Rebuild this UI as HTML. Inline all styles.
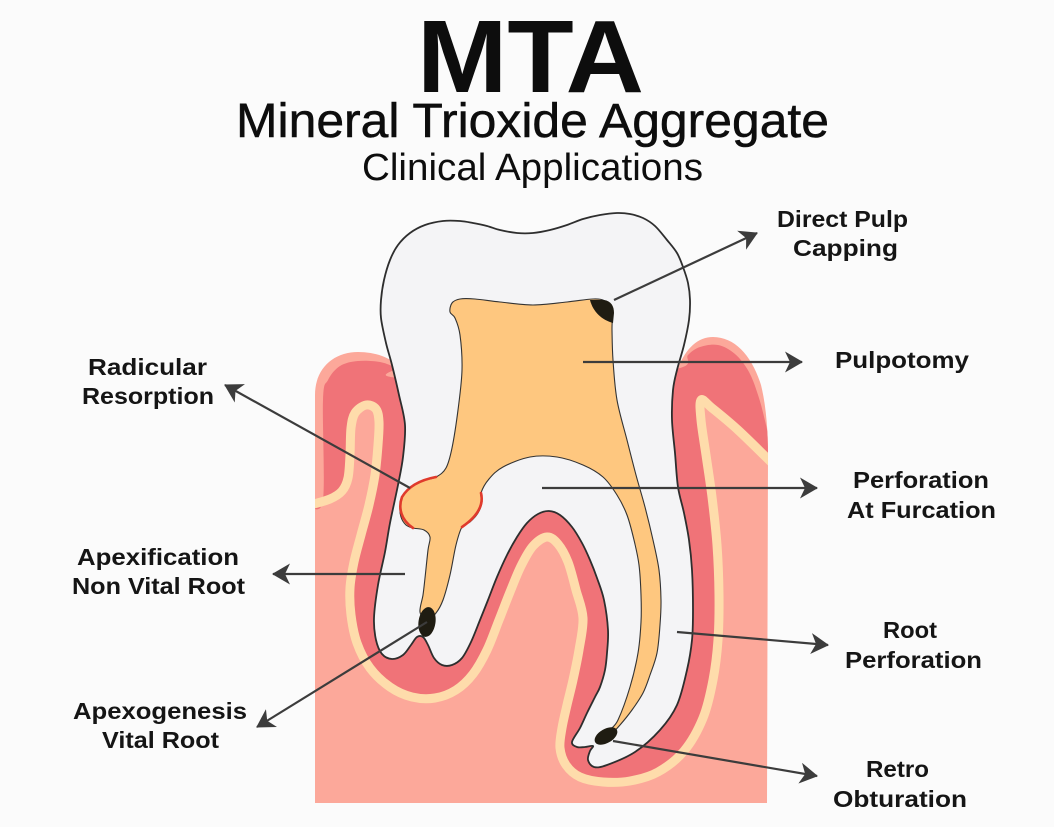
<!DOCTYPE html>
<html>
<head>
<meta charset="utf-8">
<style>
  html, body { margin: 0; padding: 0; background: #fbfbfb; }
  body { width: 1054px; height: 827px; overflow: hidden; }
  svg { display: block; }
  .lbl { font-family: "Liberation Sans", Arial, sans-serif; font-weight: bold; font-size: 23px; fill: #151515; }
  .ttl { font-family: "Liberation Sans", Arial, sans-serif; fill: #0d0d0d; }
</style>
</head>
<body>
<svg width="1054" height="827" viewBox="0 0 1054 827" xmlns="http://www.w3.org/2000/svg">
  <defs>
    <clipPath id="gumclip">
      <path d="M315,803 L315,395 C315,368 334,352 358,352 C376,352 392,358 400,368 L678,368 C686,348 698,337 713,337 C735,337 752,356 761,385 C766,405 768,430 768,455 L767,803 Z"/>
    </clipPath>
    <marker id="ah" markerUnits="userSpaceOnUse" markerWidth="19" markerHeight="21" refX="17" refY="10.5" orient="auto" viewBox="0 0 19 21">
      <path d="M0,0 L18,10.5 L0,21 L5,10.5 Z" fill="#3c3c3c"/>
    </marker>
  </defs>

  <rect x="0" y="0" width="1054" height="827" fill="#fbfbfb"/>

  <!-- gum base -->
  <path fill="#fca89a" d="M315,803 L315,395 C315,368 334,352 358,352 C376,352 392,358 400,368 L678,368 C686,348 698,337 713,337 C735,337 752,356 761,385 C766,405 768,430 768,455 L767,803 Z"/>

  <g clip-path="url(#gumclip)">
    <!-- dark pink band -->
    <path class="cr" fill="#f07378" d="M310,505 L330,499 342,491 348,478 350,455 351,428 355,413 366,405 376,409 379,422 378,445 375,475 369,505 361,535 354,562 350,588 351,615 357,643 370,668 390,687 412,697 435,698 456,690 473,674 487,650 499,620 510,592 521,566 533,546 547,537 558,544 568,562 576,590 583,618 579,650 573,680 567,705 562,728 560,748 566,765 580,777 603,782 630,781 658,772 684,751 703,718 713,680 718,640 719,595 717,545 712,497 706,455 701,420 701,400 712,408 738,430 772,463 772,452 766,425 759,398 749,372 735,354 718,345 700,347 688,355 680,368 600,378 402,378 395,368 380,362 358,361 340,366 328,380 323,400 323,500 Z"/>
    <!-- cream line -->
    <path class="cr" fill="none" stroke="#fedcab" stroke-width="9" stroke-linejoin="round" stroke-linecap="round" d="M310,505 L330,499 342,491 348,478 350,455 351,428 355,413 366,405 376,409 379,422 378,445 375,475 369,505 361,535 354,562 350,588 351,615 357,643 370,668 390,687 412,697 435,698 456,690 473,674 487,650 499,620 510,592 521,566 533,546 547,537 558,544 568,562 576,590 583,618 579,650 573,680 567,705 562,728 560,748 566,765 580,777 603,782 630,781 658,772 684,751 703,718 713,680 718,640 719,595 717,545 712,497 706,455 701,420 701,400 712,408 738,430 772,463"/>
  </g>

  <!-- tooth -->
  <path class="cr" fill="#f4f4f6" stroke="#2e2e2e" stroke-width="1.8" stroke-linejoin="round" d="M381,318 L381,300 384,280 390,260 398,245 410,233 425,225 443,221 460,221 473,223 487,226 500,230 517,233 533,233 550,230 567,225 583,219 600,215 617,213 630,214 643,218 655,226 667,240 677,253 683,267 688,283 690,300 689,320 684,345 677,370 673,390 672,420 675,453 678,487 684,513 689,540 692,570 693,610 692,640 687,670 677,705 660,730 635,752 607,765 594,767 588,760 590,751 593,746 585,747 577,747 572,742 580,728 587,713 595,697 600,687 605,670 607,653 608,630 604,600 597,578 590,560 582,543 572,527 560,515 549,511 538,514 527,523 517,537 507,555 497,577 488,600 480,620 471,642 462,658 452,665 442,665 434,658 428,645 423,637 417,637 411,645 403,655 392,659 382,654 376,640 374,618 378,585 385,552 390,523 398,485 403,457 405,425 399,395 392,365 386,343 Z"/>

  <!-- pulp -->
  <path class="cr" fill="#fec77f" stroke="#333" stroke-width="1.1" stroke-linejoin="round" d="M450,312 L452,303 460,299 475,299 500,302 533,305 567,302 593,299 605,301 612,310 612,330 613,360 617,400 627,440 636,475 645,507 653,540 659,570 661,600 660,625 657,653 650,675 643,693 632,710 620,725 612,733 610,730 618,720 630,687 638,653 641,622 641,595 639,565 634,540 627,515 617,495 603,477 583,465 557,457 530,457 503,467 489,479 481,493 482,502 478,513 470,522 462,527 456,545 450,575 443,600 436,613 427,620 420,612 423,595 425,578 428,550 430,537 424,530 413,528 406,525 401,517 400,506 403,496 410,488 422,481 436,477 446,468 452,448 458,410 462,370 460,335 455,318 Z"/>

  <!-- resorption red -->
  <path fill="none" stroke="#e03a2c" stroke-width="2.6" stroke-linecap="round" d="M436,477 C420,480 408,487 402,497 C398,508 401,520 413,528"/>
  <path fill="none" stroke="#e03a2c" stroke-width="2.6" stroke-linecap="round" d="M481,493 C484,505 478,516 462,527"/>

  <!-- MTA blobs -->
  <path fill="#1f1c12" d="M590,300 L604,300 C611,301 614,306 614,313 L613,323 C602,320 593,312 590,300 Z"/>
  <ellipse cx="427" cy="622" rx="8.5" ry="15" transform="rotate(8 427 622)" fill="#1f1c12"/>
  <ellipse cx="606" cy="736" rx="12.5" ry="7" transform="rotate(-30 606 736)" fill="#1f1c12"/>

  <!-- arrows -->
  <g stroke="#3c3c3c" stroke-width="2.2" fill="none" marker-end="url(#ah)">
    <line x1="614" y1="300" x2="757" y2="233"/>
    <line x1="583" y1="362" x2="802" y2="362"/>
    <line x1="410" y1="488" x2="225" y2="385"/>
    <line x1="542" y1="488" x2="817" y2="488"/>
    <line x1="405" y1="574" x2="273" y2="574"/>
    <line x1="427" y1="622" x2="257" y2="727"/>
    <line x1="677" y1="632" x2="828" y2="645"/>
    <line x1="613" y1="741" x2="817" y2="776"/>
  </g>

  <!-- titles -->
  <text class="ttl" x="417" y="92" font-size="103" font-weight="bold" textLength="227" lengthAdjust="spacingAndGlyphs">MTA</text>
  <text class="ttl" x="236" y="137" font-size="48" stroke="#0d0d0d" stroke-width="0.5" textLength="593" lengthAdjust="spacingAndGlyphs">Mineral Trioxide Aggregate</text>
  <text class="ttl" x="362" y="180" font-size="38" textLength="341" lengthAdjust="spacingAndGlyphs">Clinical Applications</text>

  <!-- labels -->
  <text class="lbl" x="777" y="227" textLength="131" lengthAdjust="spacingAndGlyphs">Direct Pulp</text>
  <text class="lbl" x="793" y="256" textLength="105" lengthAdjust="spacingAndGlyphs">Capping</text>
  <text class="lbl" x="835" y="368" textLength="134" lengthAdjust="spacingAndGlyphs">Pulpotomy</text>
  <text class="lbl" x="88" y="375" textLength="119" lengthAdjust="spacingAndGlyphs">Radicular</text>
  <text class="lbl" x="82" y="404" textLength="132" lengthAdjust="spacingAndGlyphs">Resorption</text>
  <text class="lbl" x="853" y="488" textLength="136" lengthAdjust="spacingAndGlyphs">Perforation</text>
  <text class="lbl" x="847" y="518" textLength="149" lengthAdjust="spacingAndGlyphs">At Furcation</text>
  <text class="lbl" x="77" y="565" textLength="162" lengthAdjust="spacingAndGlyphs">Apexification</text>
  <text class="lbl" x="72" y="594" textLength="173" lengthAdjust="spacingAndGlyphs">Non Vital Root</text>
  <text class="lbl" x="883" y="638" textLength="54" lengthAdjust="spacingAndGlyphs">Root</text>
  <text class="lbl" x="845" y="668" textLength="137" lengthAdjust="spacingAndGlyphs">Perforation</text>
  <text class="lbl" x="73" y="719" textLength="174" lengthAdjust="spacingAndGlyphs">Apexogenesis</text>
  <text class="lbl" x="102" y="748" textLength="117" lengthAdjust="spacingAndGlyphs">Vital Root</text>
  <text class="lbl" x="866" y="777" textLength="63" lengthAdjust="spacingAndGlyphs">Retro</text>
  <text class="lbl" x="833" y="807" textLength="134" lengthAdjust="spacingAndGlyphs">Obturation</text>
</svg>
<script>
(function(){
  function cr(d){
    var closed = /Z\s*$/i.test(d);
    var nums = d.match(/-?\d+(\.\d+)?/g);
    if(!nums) return d;
    nums = nums.map(Number);
    var p = [];
    for (var i = 0; i + 1 < nums.length; i += 2) p.push([nums[i], nums[i+1]]);
    var n = p.length;
    if (n < 3) return d;
    var s = 'M' + p[0][0] + ',' + p[0][1];
    var segs = closed ? n : n - 1;
    for (var k = 0; k < segs; k++) {
      var p0 = p[closed ? (k - 1 + n) % n : Math.max(k - 1, 0)];
      var p1 = p[k];
      var p2 = p[(k + 1) % n];
      var p3 = p[closed ? (k + 2) % n : Math.min(k + 2, n - 1)];
      var c1x = p1[0] + (p2[0] - p0[0]) / 6, c1y = p1[1] + (p2[1] - p0[1]) / 6;
      var c2x = p2[0] - (p3[0] - p1[0]) / 6, c2y = p2[1] - (p3[1] - p1[1]) / 6;
      s += 'C' + c1x.toFixed(2) + ',' + c1y.toFixed(2) + ' ' + c2x.toFixed(2) + ',' + c2y.toFixed(2) + ' ' + p2[0] + ',' + p2[1];
    }
    if (closed) s += 'Z';
    return s;
  }
  try {
    var els = document.querySelectorAll('path.cr');
    for (var i = 0; i < els.length; i++) {
      els[i].setAttribute('d', cr(els[i].getAttribute('d')));
    }
  } catch (e) {}
})();
</script>
</body>
</html>
